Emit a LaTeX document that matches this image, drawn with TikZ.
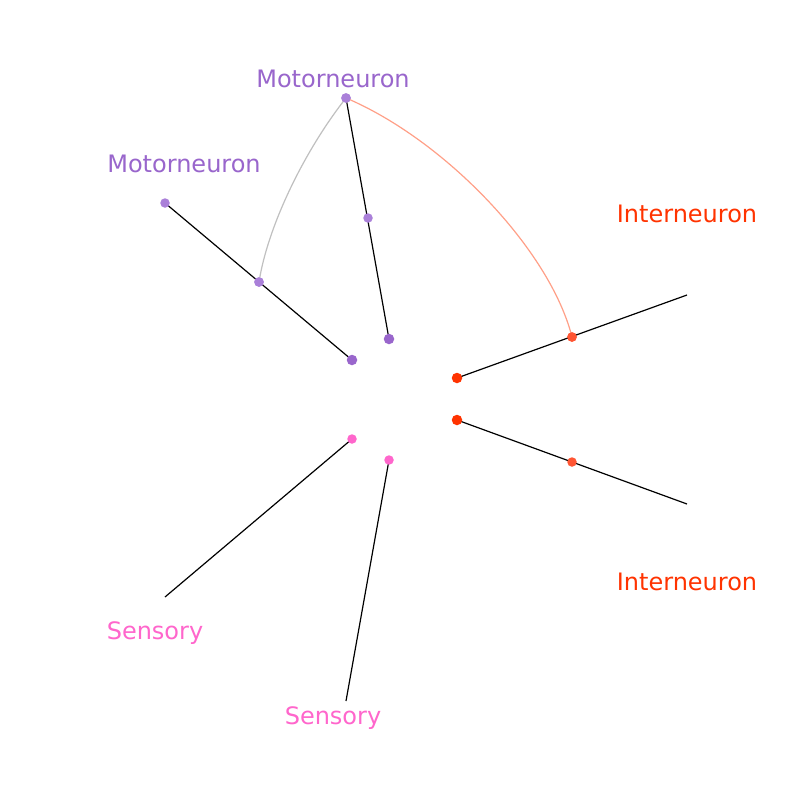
\documentclass[tikz,border=0pt]{standalone}
\usepackage{fontspec}
\setmainfont{DejaVu Sans}
\definecolor{motor}{HTML}{9966CC}
\definecolor{motorl}{HTML}{AA80D9}
\definecolor{inter}{HTML}{FF3300}
\definecolor{interl}{HTML}{FF5533}
\definecolor{sens}{HTML}{FF66CC}
\definecolor{edgegray}{HTML}{C0C0C0}
\definecolor{edgesal}{HTML}{FFA088}
\begin{document}
\begin{tikzpicture}[x=1pt,y=-1pt,
  axis/.style={draw=black,line width=1.2pt},
  dot/.style={circle,inner sep=0pt,minimum size=#1},
  lab/.style={font=\fontsize{24}{27}\selectfont,anchor=center}]
\useasboundingbox[fill=white] (0,0) rectangle (800,800);
% coordinates
\coordinate (m1a) at (389,339); \coordinate (m1b) at (346,98);
\coordinate (m2a) at (352,360); \coordinate (m2b) at (165,203);
\coordinate (i1a) at (457,378); \coordinate (i1b) at (687,295);
\coordinate (i2a) at (457,420); \coordinate (i2b) at (687,504);
\coordinate (s1a) at (352,439); \coordinate (s1b) at (165,597);
\coordinate (s2a) at (389,460); \coordinate (s2b) at (346,701);
% axes
\draw[axis] (m1a) -- (m1b);
\draw[axis] (m2a) -- (m2b);
\draw[axis] (i1a) -- (i1b);
\draw[axis] (i2a) -- (i2b);
\draw[axis] (s1a) -- (s1b);
\draw[axis] (s2a) -- (s2b);
% nodes
\node[dot=10.5pt,fill=motor] (n1) at (m1a) {};
\node[dot=9.5pt,fill=motorl] (n2) at (368,218) {};
\node[dot=9.5pt,fill=motorl] (n3) at (m1b) {};
\node[dot=10.5pt,fill=motor] (n4) at (m2a) {};
\node[dot=9.5pt,fill=motorl] (n5) at (259,282) {};
\node[dot=9.5pt,fill=motorl] (n6) at (m2b) {};
\node[dot=10.5pt,fill=inter] (n7) at (i1a) {};
\node[dot=9.5pt,fill=interl] (n8) at (572,337) {};
\node[dot=10.5pt,fill=inter] (n9) at (i2a) {};
\node[dot=9.5pt,fill=interl] (n10) at (572,462) {};
\node[dot=9.5pt,fill=sens] (n11) at (s1a) {};
\node[dot=9.5pt,fill=sens] (n12) at (s2a) {};
% edges
\draw[edgegray,line width=1.2pt] (n3.center) .. controls (305,150) and (268,225) .. (n5.center);
\draw[edgesal,line width=1.2pt] (n3.center) .. controls (445,140) and (550,250) .. (n8.center);
\node[dot=9.5pt,fill=motorl] at (n3) {};
\node[dot=9.5pt,fill=motorl] at (n5) {};
\node[dot=9.5pt,fill=interl] at (n8) {};
% labels
\node[lab,text=motor] (l1) at (333,79) {Motorneuron};
\node[lab,text=motor] (l2) at (184,164) {Motorneuron};
\node[lab,text=inter] (l3) at (687,214) {Interneuron};
\node[lab,text=inter] (l4) at (687,582) {Interneuron};
\node[lab,text=sens] (l5) at (155,633) {Sensory};
\node[lab,text=sens] (l6) at (333,718) {Sensory};
\end{tikzpicture}
\end{document}
